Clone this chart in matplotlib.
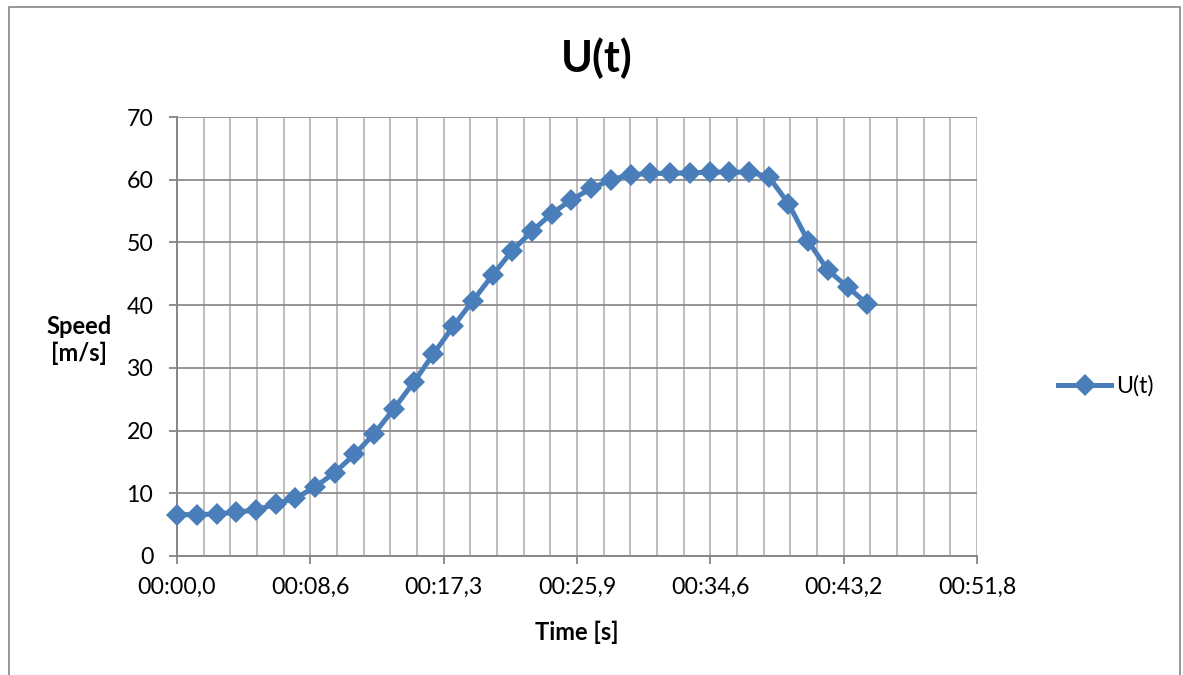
import matplotlib
matplotlib.use("Agg")
import matplotlib.pyplot as plt
from matplotlib.ticker import MultipleLocator, FixedLocator, FixedFormatter
from matplotlib.patches import Rectangle

# Sample times in seconds and measured speed in m/s
time_s = [0.00, 1.28, 2.56, 3.83, 5.11, 6.39, 7.67, 8.95, 10.22, 11.50,
          12.78, 14.06, 15.34, 16.61, 17.89, 19.17, 20.45, 21.73, 23.00, 24.28,
          25.56, 26.84, 28.12, 29.39, 30.67, 31.95, 33.23, 34.51, 35.78, 37.06,
          38.34, 39.62, 40.90, 42.17, 43.45, 44.73]
speed = [6.6, 6.6, 6.7, 7.0, 7.3, 8.3, 9.2, 11.0, 13.3, 16.2,
         19.5, 23.5, 27.7, 32.2, 36.6, 40.7, 44.8, 48.7, 51.8, 54.6,
         56.8, 58.6, 60.0, 60.8, 61.0, 61.0, 61.1, 61.2, 61.2, 61.2,
         60.5, 56.2, 50.2, 45.6, 42.9, 40.2]

x_ticks = [0.0, 8.64, 17.28, 25.92, 34.56, 43.20, 51.84]
x_tick_labels = ["00:00,0", "00:08,6", "00:17,3", "00:25,9",
                 "00:34,6", "00:43,2", "00:51,8"]
y_ticks = [0, 10, 20, 30, 40, 50, 60, 70]
series_name = "U(t)"

plt.rcParams['font.family'] = ['Lato', 'DejaVu Sans']

W, H = 1183, 675
fig = plt.figure(figsize=(W / 100, H / 100), dpi=100)
fig.patch.set_facecolor("white")

# outer chart frame
frame = Rectangle((8.5 / W, -0.05), (1179.5 - 8.5) / W, 1.05 - 6.5 / H,
                  transform=fig.transFigure, fill=False,
                  edgecolor="#868686", linewidth=1.2)
fig.patches.append(frame)

ax = fig.add_axes([177 / W, 1 - 556 / H, 800 / W, 439 / H])

line_color = "#4a7ebb"
ax.plot(time_s, speed, color=line_color, linewidth=3.6, marker="D",
        markersize=11, markeredgewidth=0, label=series_name,
        clip_on=False, zorder=5)

ax.set_xlim(x_ticks[0], x_ticks[-1])
ax.set_ylim(y_ticks[0], y_ticks[-1])

ax.xaxis.set_major_locator(FixedLocator(x_ticks))
ax.xaxis.set_major_formatter(FixedFormatter(x_tick_labels))
ax.xaxis.set_minor_locator(MultipleLocator(1.728))
ax.yaxis.set_major_locator(FixedLocator(y_ticks))

ax.grid(which="major", axis="y", color="#8c8c8c", linewidth=1.3, zorder=1)
ax.grid(which="both", axis="x", color="#b8b8b8", linewidth=1.3, zorder=1)
ax.set_axisbelow(True)

for side in ("top", "right"):
    ax.spines[side].set_visible(False)
for side in ("left", "bottom"):
    ax.spines[side].set_color("#868686")
    ax.spines[side].set_linewidth(1.4)

ax.tick_params(axis="both", which="major", direction="out", color="#868686",
               width=1.3, length=6, labelsize=16.7, labelcolor="black")
ax.tick_params(axis="x", which="major", pad=9)
ax.tick_params(axis="y", which="major", pad=11)
ax.tick_params(axis="x", which="minor", length=0)

fig.text(597 / W, 1 - 58 / H, "U(t)", ha="center", va="center",
         fontsize=31, fontweight="bold")
fig.text(79 / W, 1 - 340 / H, "Speed\n[m/s]", ha="center", va="center",
         fontsize=17, fontweight="bold", linespacing=1.2)
fig.text(577 / W, 1 - 632 / H, "Time [s]", ha="center", va="center",
         fontsize=17, fontweight="bold")

fig.legend(loc="center left", bbox_to_anchor=(1058 / W, 1 - 386 / H),
           frameon=False, fontsize=16.7, handlelength=2.3,
           handletextpad=0.2, borderpad=0, borderaxespad=0)

fig.savefig("out.png", dpi=100)
